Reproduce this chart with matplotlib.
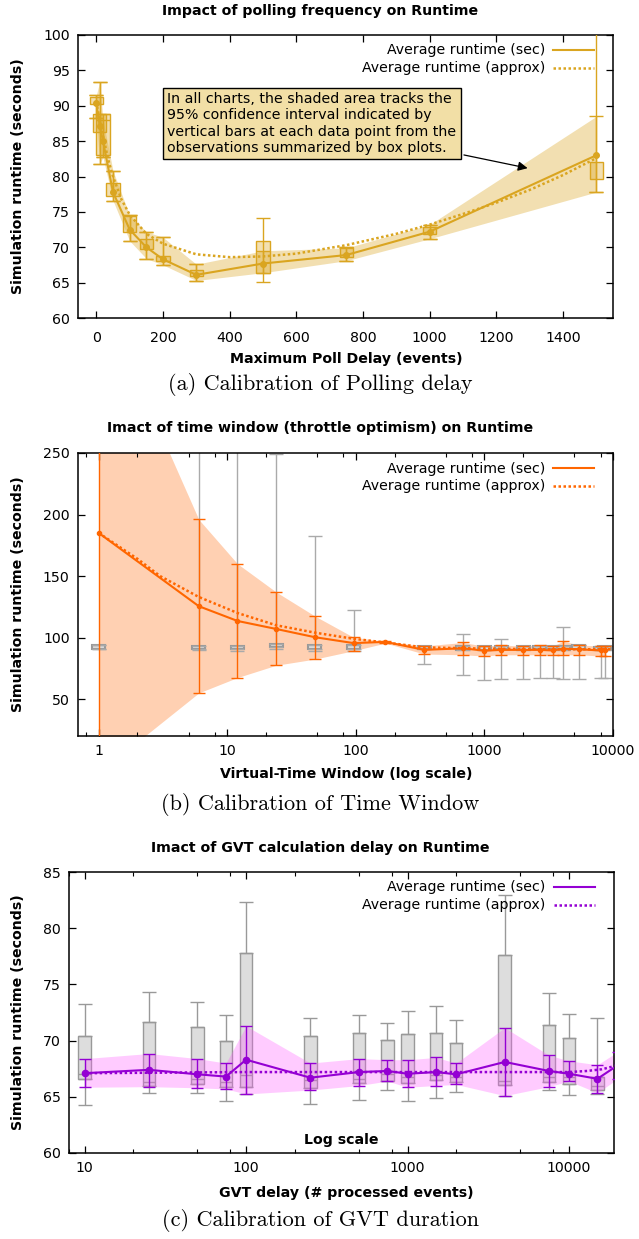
import matplotlib
matplotlib.use('Agg')

import numpy as np
import matplotlib.pyplot as plt
from matplotlib.ticker import LogLocator, NullFormatter, FixedLocator

W, H = 639, 1239

# ---- (a) polling delay ----
poll_x = [0, 10, 20, 50, 100, 150, 200, 300, 500, 750, 1000, 1500]
poll_mean = [90.4, 87.2, 85.0, 77.8, 72.5, 70.0, 68.3, 66.1, 67.7, 68.9, 72.2, 83.0]
poll_ci_lo = [88.3, 81.8, 82.7, 76.6, 70.9, 68.4, 67.5, 65.3, 66.4, 68.1, 71.2, 77.8]
poll_ci_hi = [91.5, 93.4, 88.0, 80.8, 74.5, 72.2, 71.4, 67.6, 69.5, 69.9, 73.2, 88.5]
poll_box_lo = [90.2, 86.3, 83.0, 77.3, 72.2, 69.8, 68.0, 65.9, 66.3, 68.6, 71.9, 79.7]
poll_box_hi = [91.3, 88.9, 88.9, 79.1, 74.4, 71.1, 68.8, 66.8, 70.9, 70.0, 72.8, 82.0]
poll_wh_lo = [88.3, 81.8, 82.7, 76.6, 70.9, 68.4, 67.5, 65.3, 65.1, 68.1, 71.2, 77.8]
poll_wh_hi = [91.5, 93.4, 88.9, 80.8, 74.5, 72.2, 71.4, 67.6, 74.2, 70.0, 73.2, 105.0]
poll_fit_x = [0, 10, 20, 35, 50, 75, 100, 150, 200, 300, 400, 500, 600, 750,
              900, 1000, 1100, 1200, 1300, 1400, 1500]
poll_fit_y = [90.6, 88.0, 85.8, 82.5, 80.0, 76.8, 74.6, 71.9, 70.5, 69.0, 68.6,
              68.7, 69.1, 70.3, 71.9, 73.2, 74.7, 76.3, 78.1, 80.2, 82.6]

# ---- (b) time window ----
tw_x = [1, 6, 12, 24, 48, 96, 170, 340, 680, 1000, 1350, 2000, 2700, 3400, 4100, 5400, 8000, 8600]
tw_mean = [185, 125.5, 113.5, 107, 100.3, 95.5, 96.5, 90, 91.3, 89.3, 90, 90, 90, 89.5, 91, 90.5, 89.5, 89.5]
tw_ci_lo = [-10, 55, 67.5, 77.5, 82.5, 89.3, 95.5, 86.6, 86, 85, 86, 86, 86, 86, 86, 86, 85, 85]
tw_ci_hi = [380, 196, 160, 137, 117.5, 100.2, 97, 93.2, 96, 93, 94, 93, 94, 93, 97, 94, 93, 93]
tw_box_x = [1, 6, 12, 24, 48, 96, 340, 680, 1000, 1350, 2000, 2700, 3400, 4100, 5400, 8000, 8600]
tw_box_lo = [91, 91, 90.5, 92, 90.5, 91, 90.5, 90, 90, 90.5, 90, 90.5, 90.5, 90, 90.5, 89.5, 90]
tw_box_hi = [93.7, 93.5, 93, 94.5, 94, 94, 93, 93, 93, 93, 93, 93.5, 93, 93.5, 94, 92.5, 93]
tw_wh_lo = [91, 90, 89, 91, 89, 89, 78.5, 69.4, 65.3, 66, 66, 67, 67, 66, 66.5, 67, 67]
tw_wh_hi = [93.7, 270, 270, 249, 182.5, 122.4, 93, 103, 93, 98.6, 93, 93.5, 93, 108.5, 94, 93, 93]
tw_fit_x = [1, 2, 3, 6, 12, 24, 48, 96, 170, 340, 1000, 3000, 10000]
tw_fit_y = [185, 164, 150, 133, 120, 110, 104, 99, 96, 92, 91, 90.5, 90.5]

# ---- (c) GVT delay ----
gvt_x = [10, 25, 50, 75, 100, 250, 500, 750, 1000, 1500, 2000, 4000, 7500, 10000, 15000, 20000]
gvt_mean = [67.1, 67.4, 67.0, 66.8, 68.3, 66.7, 67.2, 67.3, 67.05, 67.2, 67.0, 68.1, 67.3, 67.05, 66.6, 67.8]
gvt_ci_lo = [65.85, 65.9, 65.8, 65.7, 65.25, 65.6, 66.0, 66.4, 65.85, 66.0, 66.1, 65.1, 65.9, 66.4, 65.35, 66.6]
gvt_ci_hi = [68.4, 68.85, 68.4, 68.0, 71.3, 68.0, 68.4, 68.3, 68.3, 68.5, 68.0, 71.15, 68.7, 68.2, 67.85, 69.0]
gvt_box_x = [10, 25, 50, 75, 100, 250, 500, 750, 1000, 1500, 2000, 4000, 7500, 10000, 15000]
gvt_box_lo = [66.6, 66.0, 66.1, 65.9, 65.9, 65.8, 66.2, 66.4, 66.25, 66.5, 66.3, 66.05, 66.3, 66.1, 65.6]
gvt_box_hi = [70.4, 71.65, 71.2, 70.0, 77.8, 70.4, 70.7, 70.05, 70.55, 70.7, 69.75, 77.6, 71.4, 70.25, 66.8]
gvt_box_med = [67.0, 66.3, 66.55, 66.3, 66.9, 66.5, 66.6, 67.0, 66.8, 66.9, 66.8, 66.4, 66.8, 66.8, 66.0]
gvt_wh_lo = [64.3, 65.3, 65.3, 64.6, 65.25, 64.4, 64.7, 65.6, 64.6, 64.9, 65.45, 65.1, 65.6, 65.2, 65.25]
gvt_wh_hi = [73.25, 74.35, 73.4, 72.3, 82.3, 72.0, 72.3, 71.6, 72.6, 73.05, 71.8, 82.95, 74.2, 72.4, 72.0]
gvt_fit_x = [10, 100, 1000, 5000, 10000, 13000, 16000, 20000]
gvt_fit_y = [67.1, 67.2, 67.2, 67.2, 67.2, 67.3, 67.45, 67.8]

GOLD = '#daa520'
ORANGE = '#ff6600'
PURPLE = '#9400d3'
BOXGRAY = '#999999'
FS = 10.2


def px_rect(l, t, r, b):
    return [l / W, 1 - b / H, (r - l) / W, (b - t) / H]


def style_axes(ax, xpad=6):
    for s in ax.spines.values():
        s.set_linewidth(1.1)
    ax.tick_params(direction='in', top=True, right=True, length=5, width=0.9,
                   labelsize=FS, pad=6)
    ax.tick_params(axis='x', pad=xpad)
    ax.tick_params(which='minor', direction='in', top=True, right=True, length=3, width=0.8)


def log_boxes(ax, xs, lo, hi, decades, **kw):
    xs = np.array(xs, float)
    left = xs / 10 ** (decades / 2)
    right = xs * 10 ** (decades / 2)
    ax.bar(left, np.array(hi) - np.array(lo), bottom=lo, width=right - left,
           align='edge', **kw)
    return left, right


def legend(ax, color):
    ax.plot([], [], color=color, lw=1.5, label='Average runtime (sec)')
    ax.plot([], [], color=color, lw=1.8, ls=(0, (1, 1)), label='Average runtime (approx)')
    ax.legend(loc='upper right', frameon=False, markerfirst=False, fontsize=FS,
              handlelength=2.9, handletextpad=0.55, labelspacing=0.28,
              borderaxespad=0.2, bbox_to_anchor=(0.98, 1.0))


def ftext(x, y, s, **kw):
    fig.text(x / W, 1 - y / H, s, ha='center', va='center', **kw)


fig = plt.figure(figsize=(W / 100, H / 100), dpi=100)

# ================= (a) =================
ax = fig.add_axes(px_rect(78, 35, 613, 318))
ax.fill_between(poll_x, poll_ci_lo, poll_ci_hi, color=GOLD, alpha=0.35, lw=0, zorder=1)
ax.bar(poll_x, np.array(poll_box_hi) - np.array(poll_box_lo), bottom=poll_box_lo, width=40,
       color=GOLD, alpha=0.35, zorder=2)
ax.bar(poll_x, np.array(poll_box_hi) - np.array(poll_box_lo), bottom=poll_box_lo, width=40,
       facecolor='none', edgecolor=GOLD, lw=1.0, zorder=3)
ax.errorbar(poll_x, poll_mean,
            yerr=[np.array(poll_mean) - np.array(poll_wh_lo), np.array(poll_wh_hi) - np.array(poll_mean)],
            fmt='none', ecolor=GOLD, elinewidth=1.0, capsize=5, capthick=1.0, zorder=3)
ax.errorbar(poll_x, poll_mean,
            yerr=[np.array(poll_mean) - np.array(poll_ci_lo), np.array(poll_ci_hi) - np.array(poll_mean)],
            fmt='none', ecolor=GOLD, elinewidth=1.0, capsize=5, capthick=1.0, zorder=3)
ax.plot(poll_fit_x, poll_fit_y, color=GOLD, lw=1.8, ls=(0, (1, 1)), zorder=4)
ax.plot(poll_x, poll_mean, color=GOLD, lw=1.5, marker='o', ms=4, zorder=5)
ax.set_xlim(-55, 1550)
ax.set_ylim(60, 100)
ax.set_xticks(np.arange(0, 1401, 200))
ax.set_yticks(np.arange(60, 101, 5))
style_axes(ax, xpad=9)
legend(ax, GOLD)
ax.annotate('In all charts, the shaded area tracks the\n95% confidence interval indicated by\n'
            'vertical bars at each data point from the\nobservations summarized by box plots.',
            xy=(1302, 81.1), xytext=(213, 87.5), fontsize=FS, ha='left', va='center',
            linespacing=1.2,
            bbox=dict(boxstyle='square,pad=0.3', fc='#f2dfa6', ec='black', lw=1.0),
            arrowprops=dict(arrowstyle='-|>', color='black', lw=0.9, mutation_scale=14),
            zorder=6)

ftext(320, 11, 'Impact of polling frequency on Runtime', fontsize=FS, fontweight='bold')
ftext(346, 359, 'Maximum Poll Delay (events)', fontsize=FS, fontweight='bold')
ftext(18, 176, 'Simulation runtime (seconds)', fontsize=FS, fontweight='bold', rotation=90)
ftext(320, 385, '(a) Calibration of Polling delay', fontsize=16, family='cmr10')

# ================= (b) =================
ax = fig.add_axes(px_rect(78, 453, 613, 736))
ax.set_xscale('log')
ax.fill_between(tw_x, tw_ci_lo, tw_ci_hi, color=ORANGE, alpha=0.3, lw=0, zorder=1)
l, r = log_boxes(ax, tw_box_x, tw_box_lo, tw_box_hi, 0.1, facecolor='#dddddd',
                 edgecolor=BOXGRAY, lw=1.5, zorder=2)
ax.errorbar(tw_box_x, tw_box_hi, yerr=[np.zeros(len(tw_box_x)), np.array(tw_wh_hi) - np.array(tw_box_hi)],
            fmt='none', ecolor='#aaaaaa', elinewidth=1.0, capsize=5, capthick=1.0, zorder=2)
ax.errorbar(tw_box_x, tw_box_lo, yerr=[np.array(tw_box_lo) - np.array(tw_wh_lo), np.zeros(len(tw_box_x))],
            fmt='none', ecolor='#aaaaaa', elinewidth=1.0, capsize=5, capthick=1.0, zorder=2)
ax.errorbar(tw_x, tw_mean,
            yerr=[np.array(tw_mean) - np.array(tw_ci_lo), np.array(tw_ci_hi) - np.array(tw_mean)],
            fmt='none', ecolor=ORANGE, elinewidth=1.0, capsize=4, capthick=1.0, zorder=3)
ax.plot(tw_fit_x, tw_fit_y, color=ORANGE, lw=1.8, ls=(0, (1, 1)), zorder=4)
ax.plot(tw_x, tw_mean, color=ORANGE, lw=1.5, marker='o', ms=3, zorder=5)
ax.set_xlim(0.69, 10000)
ax.set_ylim(20, 250)
ax.set_yticks(np.arange(50, 251, 50))
ax.xaxis.set_major_locator(FixedLocator([1, 10, 100, 1000, 10000]))
ax.set_xticklabels(['1', '10', '100', '1000', '10000'])
ax.xaxis.set_minor_locator(LogLocator(base=10, subs=(2, 5, 8)))
ax.xaxis.set_minor_formatter(NullFormatter())
style_axes(ax)
legend(ax, ORANGE)

ftext(320, 428, 'Imact of time window (throttle optimism) on Runtime', fontsize=FS, fontweight='bold')
ftext(346, 774, 'Virtual-Time Window (log scale)', fontsize=FS, fontweight='bold')
ftext(18, 594, 'Simulation runtime (seconds)', fontsize=FS, fontweight='bold', rotation=90)
ftext(320, 805, '(b) Calibration of Time Window', fontsize=16, family='cmr10')

# ================= (c) =================
ax = fig.add_axes(px_rect(69, 872, 614, 1153))
ax.set_xscale('log')
l, r = log_boxes(ax, gvt_box_x, gvt_box_lo, gvt_box_hi, 0.078, facecolor='#dddddd',
                 edgecolor=BOXGRAY, lw=1.0, zorder=1)
ax.hlines(gvt_box_med, l, r, color=BOXGRAY, lw=1.0, zorder=1)
ax.errorbar(gvt_box_x, gvt_box_hi, yerr=[np.zeros(len(gvt_box_x)), np.array(gvt_wh_hi) - np.array(gvt_box_hi)],
            fmt='none', ecolor=BOXGRAY, elinewidth=1.0, capsize=5, capthick=1.0, zorder=1)
ax.errorbar(gvt_box_x, gvt_box_lo, yerr=[np.array(gvt_box_lo) - np.array(gvt_wh_lo), np.zeros(len(gvt_box_x))],
            fmt='none', ecolor=BOXGRAY, elinewidth=1.0, capsize=5, capthick=1.0, zorder=1)
ax.fill_between(gvt_x, gvt_ci_lo, gvt_ci_hi, color='#ff55ff', alpha=0.3, lw=0, zorder=2)
ax.errorbar(gvt_x, gvt_mean,
            yerr=[np.array(gvt_mean) - np.array(gvt_ci_lo), np.array(gvt_ci_hi) - np.array(gvt_mean)],
            fmt='none', ecolor=PURPLE, elinewidth=1.0, capsize=4, capthick=1.0, zorder=3)
ax.plot(gvt_fit_x, gvt_fit_y, color=PURPLE, lw=1.8, ls=(0, (1, 1)), zorder=4)
ax.plot(gvt_x, gvt_mean, color=PURPLE, lw=1.5, marker='o', ms=4.5, zorder=5)
ax.set_xlim(8, 19000)
ax.set_ylim(60, 85)
ax.set_yticks(np.arange(60, 86, 5))
ax.xaxis.set_major_locator(FixedLocator([10, 100, 1000, 10000]))
ax.set_xticklabels(['10', '100', '1000', '10000'])
ax.xaxis.set_minor_locator(LogLocator(base=10, subs=(2, 5, 8)))
ax.xaxis.set_minor_formatter(NullFormatter())
style_axes(ax)
legend(ax, PURPLE)
ax.text(0.5, 0.045, 'Log scale', transform=ax.transAxes, ha='center', va='center',
        fontsize=FS, fontweight='bold')

ftext(320, 848, 'Imact of GVT calculation delay on Runtime', fontsize=FS, fontweight='bold')
ftext(346, 1193, 'GVT delay (# processed events)', fontsize=FS, fontweight='bold')
ftext(18, 1012, 'Simulation runtime (seconds)', fontsize=FS, fontweight='bold', rotation=90)
ftext(320, 1221, '(c) Calibration of GVT duration', fontsize=16, family='cmr10')

fig.savefig('out.png', dpi=100)
